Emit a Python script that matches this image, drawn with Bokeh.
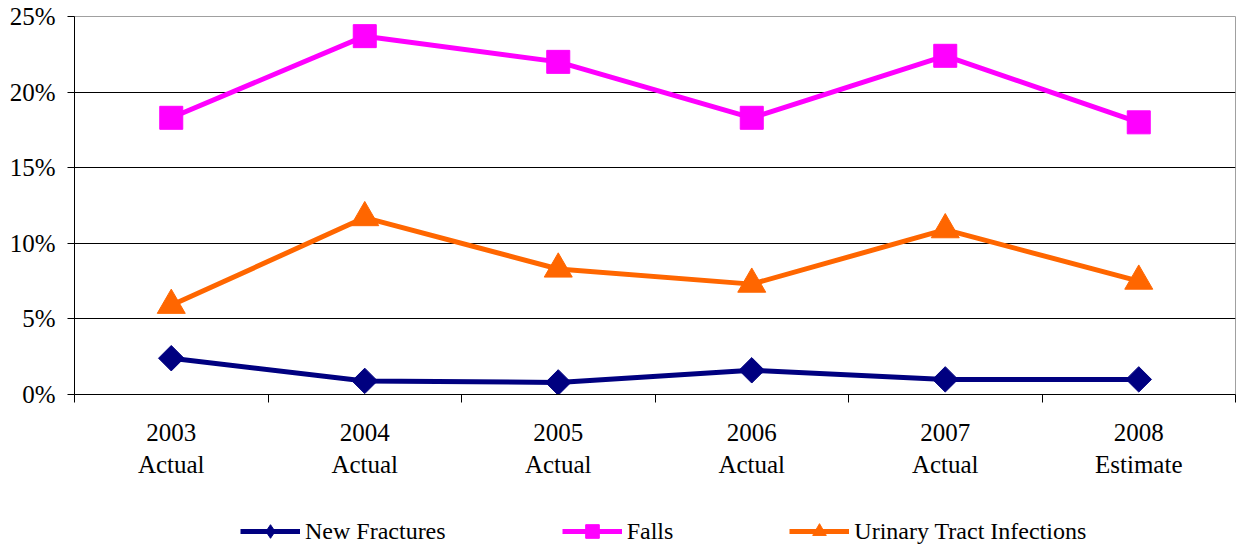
import math
from bokeh.plotting import figure
from bokeh.layouts import column
from bokeh.models import Range1d, FixedTicker, PrintfTickFormatter, Legend, LegendItem
from bokeh.embed import file_html
from bokeh.resources import INLINE

years = ["2003", "2004", "2005", "2006", "2007", "2008"]
kinds = ["Actual", "Actual", "Actual", "Actual", "Actual", "Estimate"]
new_fractures = [2.4, 0.9, 0.8, 1.6, 1.0, 1.0]
falls = [18.3, 23.7, 22.0, 18.3, 22.4, 18.0]
uti = [5.9, 11.7, 8.3, 7.3, 10.9, 7.5]
y_ticks = [0, 5, 10, 15, 20, 25]
series_names = ["New Fractures", "Falls", "Urinary Tract Infections"]

FONT = "Liberation Serif"
navy = "#000080"
magenta = "#ff00ff"
orange = "#ff6600"

n = len(years)
x = [i + 0.5 for i in range(n)]

W = 1236
LEG_H = 34
MAIN_H = 548 - LEG_H

p = figure(width=W, height=MAIN_H, output_backend="svg", toolbar_location=None,
           x_range=Range1d(0, n), y_range=Range1d(0, 25),
           min_border_left=74, min_border_right=1, min_border_top=16,
           min_border_bottom=MAIN_H - 394)
p.background_fill_color = "white"
p.border_fill_color = "white"
p.outline_line_color = "#a0a0a0"
p.outline_line_width = 1

p.xgrid.grid_line_color = None
p.ygrid.grid_line_color = "black"
p.ygrid.grid_line_width = 1

# y axis
p.yaxis.ticker = FixedTicker(ticks=y_ticks)
p.yaxis.formatter = PrintfTickFormatter(format="%d%%")
p.yaxis.major_tick_out = 7
p.yaxis.major_tick_in = 0
p.yaxis.minor_tick_line_color = None
p.yaxis.axis_line_color = "black"
p.yaxis.major_tick_line_color = "black"
p.yaxis.major_label_text_font = FONT
p.yaxis.major_label_text_font_size = "25px"
p.yaxis.major_label_text_color = "black"
p.yaxis.major_label_standoff = 12

# x axis: labels at category centres, short ticks at category boundaries
p.xaxis.ticker = FixedTicker(ticks=x, minor_ticks=list(range(n + 1)))
p.xaxis.major_label_overrides = {xi: f"{y}\n{k}" for xi, y, k in zip(x, years, kinds)}
p.xaxis.major_tick_out = 0
p.xaxis.major_tick_in = 0
p.xaxis.minor_tick_out = 8
p.xaxis.minor_tick_in = 0
p.xaxis.minor_tick_line_color = "black"
p.xaxis.axis_line_color = "black"
p.xaxis.major_label_text_font = FONT
p.xaxis.major_label_text_font_size = "25px"
p.xaxis.major_label_text_color = "black"
p.xaxis.major_label_standoff = 16

p.line(x, new_fractures, line_color=navy, line_width=5)
p.scatter(x, new_fractures, marker="square", size=18, angle=math.pi / 4,
          fill_color=navy, line_color=navy)
p.line(x, falls, line_color=magenta, line_width=5)
p.scatter(x, falls, marker="square", size=23, fill_color=magenta, line_color=magenta)
p.line(x, uti, line_color=orange, line_width=5)
p.scatter(x, uti, marker="triangle", size=28, fill_color=orange, line_color=orange)

# legend strip below the chart
lg = figure(width=W, height=LEG_H, output_backend="svg", toolbar_location=None,
            x_range=Range1d(0, 1), y_range=Range1d(0, 1),
            x_axis_location=None, y_axis_location=None,
            min_border=0)
lg.grid.grid_line_color = None
lg.outline_line_color = None
lg.background_fill_color = "white"
lg.border_fill_color = "white"

items = []
for name, col, mk in zip(series_names, [navy, magenta, orange], ["diamond", "square", "triangle"]):
    ln = lg.line([-10, -9], [-10, -10], line_color=col, line_width=5)
    sc = lg.scatter([-10], [-10], marker=mk, fill_color=col, line_color=col)
    items.append(LegendItem(label=name, renderers=[ln, sc]))

legend = Legend(items=items, orientation="horizontal", location=(166, 0))
legend.border_line_color = None
legend.background_fill_alpha = 0
legend.padding = 0
legend.margin = 0
legend.spacing = 116
legend.glyph_width = 60
legend.glyph_height = LEG_H
legend.label_height = LEG_H
legend.label_standoff = 5
legend.label_text_font = FONT
legend.label_text_font_size = "24px"
legend.label_text_color = "black"
lg.add_layout(legend, "center")

layout = column(p, lg, spacing=0)
open("out.html", "w").write(file_html(layout, INLINE))
